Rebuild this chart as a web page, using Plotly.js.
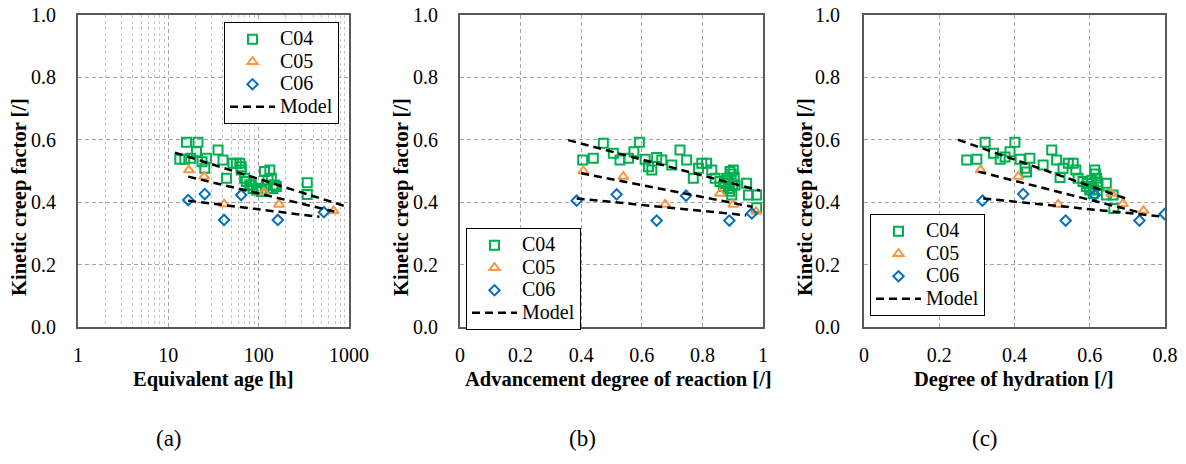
<!DOCTYPE html>
<html>
<head>
<meta charset="utf-8">
<script src="https://cdn.plot.ly/plotly-3.0.1.min.js"></script>
<style>html,body{margin:0;padding:0;background:#fff;}#chart{width:1186px;height:464px;}</style>
</head>
<body>
<div id="chart"></div>
<script>
// ---------- Data: panel (a) Equivalent age [h] ----------
const a_C04_t = [15.9,21.3,13.4,15.2,20.5,17.7,26.4,23.6,35.5,40.3,25.3,44,52,56.6,61.7,64,64,70,73,79.6,83,86.6,94.3,98,107,107,116,133,138,150,127,122,144,157,345,345];
const a_C04_k = [0.592,0.592,0.538,0.538,0.562,0.541,0.541,0.530,0.567,0.535,0.509,0.477,0.525,0.525,0.525,0.514,0.503,0.477,0.466,0.455,0.455,0.444,0.439,0.445,0.439,0.434,0.498,0.503,0.477,0.455,0.471,0.455,0.444,0.450,0.462,0.425];
const a_C05_t = [16.9,24.9,41.4,114.5,168,674];
const a_C05_k = [0.503,0.482,0.394,0.432,0.393,0.372];
const a_C06_t = [16.6,25.3,41.4,64,163,527];
const a_C06_k = [0.407,0.426,0.343,0.423,0.343,0.368];
const a_model_t = [11.8,890,null,16.6,690,null,16.6,470];
const a_model_k = [0.559,0.388,null,0.482,0.370,null,0.405,0.353];

// ---------- Data: panel (b) Advancement degree of reaction [/] ----------
const b_C04_x = [0.405,0.440,0.473,0.506,0.528,0.556,0.574,0.592,0.611,0.622,0.633,0.649,0.666,0.699,0.726,0.748,0.770,0.787,0.798,0.814,0.831,0.842,0.858,0.880,0.891,0.902,0.886,0.897,0.908,0.946,0.952,0.979,0.979,0.869,0.875,0.885,0.895,0.905,0.900,0.890];
const b_C04_k = [0.535,0.541,0.589,0.557,0.535,0.541,0.562,0.592,0.538,0.514,0.503,0.543,0.535,0.519,0.567,0.535,0.477,0.509,0.525,0.525,0.503,0.477,0.466,0.477,0.498,0.503,0.444,0.423,0.455,0.461,0.423,0.423,0.382,0.450,0.460,0.470,0.490,0.480,0.455,0.435];
const b_C05_x = [0.407,0.539,0.677,0.858,0.902,0.977];
const b_C05_k = [0.500,0.482,0.393,0.428,0.393,0.370];
const b_C06_x = [0.385,0.517,0.649,0.746,0.889,0.963];
const b_C06_k = [0.405,0.425,0.341,0.421,0.341,0.364];
const b_model_x = [0.357,0.99,null,0.40,0.965,null,0.385,0.945];
const b_model_k = [0.599,0.437,null,0.493,0.385,null,0.412,0.358];

// ---------- Data: panel (c) Degree of hydration [/] ----------
const c_C04_x = [0.273,0.300,0.322,0.344,0.362,0.375,0.388,0.401,0.415,0.428,0.432,0.441,0.476,0.499,0.512,0.529,0.543,0.556,0.563,0.521,0.569,0.582,0.591,0.600,0.613,0.618,0.609,0.622,0.644,0.644,0.662,0.664,0.595,0.605,0.615,0.600,0.610,0.620];
const c_C04_k = [0.535,0.538,0.592,0.557,0.538,0.545,0.562,0.592,0.538,0.509,0.497,0.541,0.519,0.567,0.535,0.509,0.525,0.525,0.503,0.479,0.477,0.466,0.450,0.439,0.503,0.477,0.428,0.455,0.461,0.423,0.423,0.380,0.460,0.470,0.490,0.445,0.440,0.465];
const c_C05_x = [0.310,0.410,0.516,0.657,0.688,0.743];
const c_C05_k = [0.503,0.482,0.393,0.428,0.395,0.373];
const c_C06_x = [0.315,0.423,0.536,0.613,0.732,0.799];
const c_C06_k = [0.405,0.426,0.341,0.423,0.341,0.362];
const c_model_x = [0.25,0.70,null,0.304,0.74,null,0.317,0.794];
const c_model_k = [0.60,0.41,null,0.498,0.365,null,0.412,0.354];

const seriesNames = ['C04','C05','C06','Model'];
const xTitles = ['Equivalent age [h]','Advancement degree of reaction [/]','Degree of hydration [/]'];
const yTitle = 'Kinetic creep factor [/]';
const panelLabels = ['(a)','(b)','(c)'];

// ---------- Styles ----------
const FONT = 'Liberation Serif, Times New Roman, serif';
const GREEN = '#00B050', ORANGE = '#F79646', BLUE = '#0070C0';
const sq = {symbol:'square-open', size:9, color:GREEN, line:{width:2, color:GREEN}};
const tri = {symbol:'triangle-up-open', size:9, color:ORANGE, line:{width:2, color:ORANGE}};
const dia = {symbol:'diamond-open', size:8, color:BLUE, line:{width:2, color:BLUE}};
const dashLine = {color:'#000', width:2.5, dash:'8px,5px'};
const nm = s => '<span style="font-size:20px">' + s + '</span>';

function panelTraces(xs, ys, suffix, legendId) {
  const ax = {xaxis:'x'+suffix, yaxis:'y'+suffix, legend:legendId};
  return [
    Object.assign({type:'scatter', mode:'markers', name:nm(seriesNames[0]), x:xs[0], y:ys[0], marker:sq, legendgroup:legendId+'g1'}, ax),
    Object.assign({type:'scatter', mode:'markers', name:nm(seriesNames[1]), x:xs[1], y:ys[1], marker:tri, legendgroup:legendId+'g2'}, ax),
    Object.assign({type:'scatter', mode:'markers', name:nm(seriesNames[2]), x:xs[2], y:ys[2], marker:dia, legendgroup:legendId+'g3'}, ax),
    Object.assign({type:'scatter', mode:'lines', name:nm(seriesNames[3]), x:xs[3], y:ys[3], line:dashLine, connectgaps:false, legendgroup:legendId+'g4'}, ax)
  ];
}

const traces = [].concat(
  panelTraces([a_C04_t,a_C05_t,a_C06_t,a_model_t],[a_C04_k,a_C05_k,a_C06_k,a_model_k],'','legend'),
  panelTraces([b_C04_x,b_C05_x,b_C06_x,b_model_x],[b_C04_k,b_C05_k,b_C06_k,b_model_k],'2','legend2'),
  panelTraces([c_C04_x,c_C05_x,c_C06_x,c_model_x],[c_C04_k,c_C05_k,c_C06_k,c_model_k],'3','legend3')
);

const W = 1186, H = 464;
const yDom = [(H-327)/H, (H-15)/H];
const gridBase = {showgrid:true, gridcolor:'#a6a6a6', gridwidth:1, griddash:'4px,3px', zeroline:false,
  showline:true, mirror:true, linecolor:'#595959', linewidth:2, ticks:'outside', tickcolor:'rgba(0,0,0,0)',
  tickfont:{family:FONT, size:20, color:'#000'}};
function yAxis(dom, ticklen, anchor) {
  return Object.assign({}, gridBase, {domain:yDom, range:[0,1], dtick:0.2, tick0:0, tickformat:'.1f', ticklen:ticklen, anchor:anchor});
}
const minorVals = [2,3,4,5,6,7,8,9,20,30,40,50,60,70,80,90,200,300,400,500,600,700,800,900];

const legendBase = {font:{family:FONT, size:15, color:'#000'}, bgcolor:'#fff', bordercolor:'#000', borderwidth:1,
  xanchor:'left', yanchor:'top', itemwidth:45, tracegroupgap:0, traceorder:'normal'};

const ann = [];
const yTitleX = [20, 402, 806];
const xTitleX = [213, 618, 1013];
const labelX = [169, 582, 985];
for (let i=0;i<3;i++) {
  ann.push({xref:'paper', yref:'paper', x:yTitleX[i]/W, y:1-197/H, text:'<b>'+yTitle+'</b>', textangle:-90, showarrow:false,
    font:{family:FONT, size:20.5, color:'#000'}, xanchor:'center', yanchor:'middle'});
  ann.push({xref:'paper', yref:'paper', x:xTitleX[i]/W, y:1-379/H, text:'<b>'+xTitles[i]+'</b>', showarrow:false,
    font:{family:FONT, size:20.5, color:'#000'}, xanchor:'center', yanchor:'middle'});
  ann.push({xref:'paper', yref:'paper', x:labelX[i]/W, y:1-438/H, text:panelLabels[i], showarrow:false,
    font:{family:FONT, size:23, color:'#000'}, xanchor:'center', yanchor:'middle'});
}

const layout = {
  width:W, height:H, margin:{l:0, r:0, t:0, b:0}, paper_bgcolor:'#fff', plot_bgcolor:'#fff',
  showlegend:true,
  xaxis: Object.assign({}, gridBase, {domain:[78/W, 349/W], type:'log', range:[0,3], dtick:1, exponentformat:'none', ticklen:9, anchor:'y',
    minor:{tickmode:'array', tickvals:minorVals, showgrid:true, gridcolor:'#c8c8c8', gridwidth:1, griddash:'dot', ticks:''}}),
  yaxis: yAxis(yDom, 16, 'x'),
  xaxis2: Object.assign({}, gridBase, {domain:[460/W, 763/W], range:[0,1], dtick:0.2, tick0:0, ticklen:9, anchor:'y2'}),
  yaxis2: yAxis(yDom, 16, 'x2'),
  xaxis3: Object.assign({}, gridBase, {domain:[864/W, 1165/W], range:[0,0.8], dtick:0.2, tick0:0, ticklen:9, anchor:'y3'}),
  yaxis3: yAxis(yDom, 18, 'x3'),
  legend: Object.assign({}, legendBase, {x:224/W, y:1-22/H}),
  legend2: Object.assign({}, legendBase, {x:466/W, y:1-228/H}),
  legend3: Object.assign({}, legendBase, {x:870/W, y:1-214/H, tracegroupgap:4.5}),
  annotations: ann
};

Plotly.newPlot('chart', traces, layout, {staticPlot:true, displayModeBar:false});
</script>
</body>
</html>
